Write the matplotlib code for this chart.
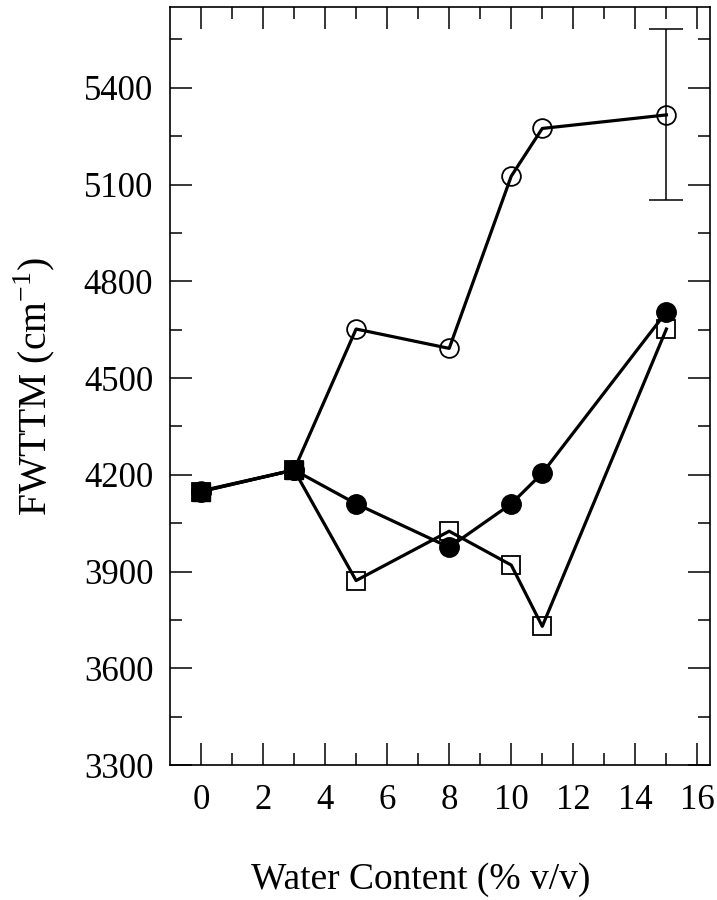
import numpy as np
import matplotlib.pyplot as plt

plt.rcParams['font.family'] = ['Liberation Serif', 'DejaVu Serif']

# water content (% v/v)
x_open = [0, 3, 5, 8, 10, 11, 15]
y_open = [4150, 4215, 4652, 4592, 5126, 5274, 5316]
err_open = [0, 0, 0, 0, 0, 0, 265]

x_fill = [0, 3, 5, 8, 10, 11, 15]
y_fill = [4148, 4215, 4110, 3975, 4110, 4205, 4705]

x_sq = [0, 3, 5, 8, 10, 11, 15]
y_sq = [4148, 4215, 3872, 4025, 3920, 3730, 4652]

# points shared by all three series
x_shared = [0, 3]
y_shared = [4148, 4215]

fig = plt.figure(figsize=(7.17, 9.0), dpi=100)
ax = fig.add_axes([0.237, 0.15, 0.753, 0.842])

lw = 2.3
ax.plot(x_open, y_open, '-', color='k', lw=lw, marker='o', ms=13.5,
        mfc='none', mec='k', mew=1.3, zorder=3)
ax.errorbar(x_open[-1:], y_open[-1:], yerr=err_open[-1:], fmt='none',
            ecolor='k', elinewidth=1.1, capsize=12, capthick=1.1, zorder=2)
ax.plot(x_sq, y_sq, '-', color='k', lw=lw, marker='s', ms=12.5,
        mfc='none', mec='k', mew=1.3, zorder=3)
ax.plot(x_fill, y_fill, '-', color='k', lw=lw, marker='o', ms=14,
        mfc='k', mec='k', zorder=4)
ax.plot(x_shared, y_shared, 's', color='k', ms=13, zorder=5)

ax.set_xlim(-1, 16.4)
ax.set_ylim(3300, 5650)
ax.set_xticks(np.arange(0, 17, 2))
ax.set_xticks(np.arange(1, 16, 2), minor=True)
ax.set_yticks(np.arange(3300, 5401, 300))
ax.set_yticks(np.arange(3450, 5651, 300), minor=True)

ax.tick_params(which='both', direction='in', top=True, right=True, width=1.1,
               labelsize=25)
ax.tick_params(which='major', length=15.5)
ax.tick_params(which='minor', length=8.5)
ax.tick_params(axis='x', pad=14)
ax.tick_params(axis='y', pad=12)
for s in ax.spines.values():
    s.set_linewidth(1.2)

ax.set_xlabel('Water Content (% v/v)', fontsize=27, labelpad=32)
ax.xaxis.label.set_x(0.465)
ax.set_ylabel(r'FWTTM (cm$^{\mathregular{-1}}$)', fontsize=28.5, labelpad=19)

fig.savefig('out.png', dpi=100)
